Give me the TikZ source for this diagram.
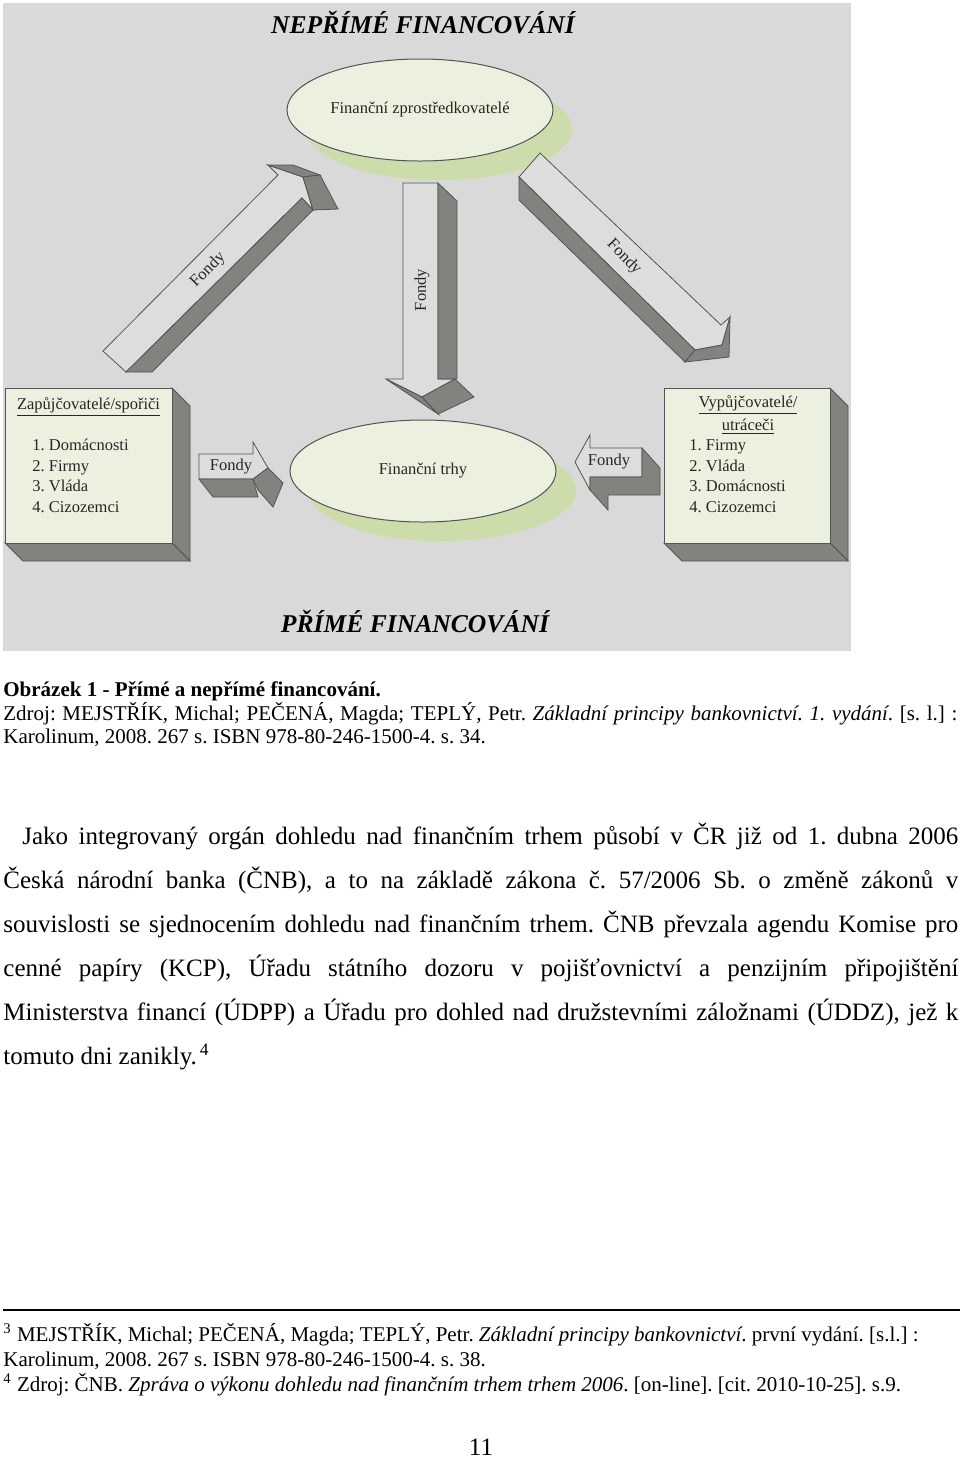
\documentclass[tikz,border=0pt]{standalone}
\usepackage{fontspec}
\setmainfont{Liberation Serif}
\usetikzlibrary{shapes.geometric}
\frenchspacing

\definecolor{panel}{RGB}{217,217,217}
\definecolor{paleface}{RGB}{235,241,222}
\definecolor{shadowgreen}{RGB}{204,220,170}
\definecolor{sidegray}{RGB}{130,131,126}
\definecolor{edgegray}{RGB}{80,86,80}
\definecolor{arrowface}{RGB}{221,221,221}

\tikzstyle{face} = [fill=paleface, draw=edgegray, line width=0.5pt]
\tikzstyle{side} = [fill=sidegray, draw=edgegray, line width=0.4pt]
\tikzstyle{arrowfront} = [fill=arrowface, draw=edgegray, line width=0.4pt]
\tikzstyle{oval} = [ellipse, face, minimum width=133pt, minimum height=51pt, inner sep=0pt]
\tikzstyle{small} = [font=\fontsize{8.25}{10}\selectfont, text=black!85, inner sep=0pt]
\tikzstyle{headline} = [font=\fontsize{12.8}{15}\selectfont\bfseries\itshape, anchor=base, inner sep=0pt]
\tikzstyle{body} = [font=\fontsize{12.5}{15}\selectfont, anchor=base west, inner sep=0pt]
\tikzstyle{note} = [font=\fontsize{10.5}{12}\selectfont, anchor=base west, inner sep=0pt]

\begin{document}
\begin{tikzpicture}[x=0.5pt,y=-0.5pt]
      \useasboundingbox (0,0) rectangle (960,1458);
      \fill [white] (0,0) rectangle (960,1458);
      \fill [panel] (3,3) rectangle (851,651);

      % titles
      \node [headline] (indirect) at (423,33) {NEPŘÍMÉ FINANCOVÁNÍ};
      \node [headline] (direct) at (415,632) {PŘÍMÉ FINANCOVÁNÍ};

      % ovals with shadows
      \fill [shadowgreen] (439,129) ellipse [x radius=133, y radius=51];
      \node [oval] (broker) at (420,110) {};
      \node [small] at (broker) {Finanční zprostředkovatelé};
      \fill [shadowgreen] (442,490) ellipse [x radius=134, y radius=51];
      \node [oval] (markets) at (423,471) {};
      \node [small] at (markets) {Finanční trhy};

      % left box
      \draw [side] (172,388) -- (190,406) -- (190,561) -- (172,543) -- cycle;
      \draw [side] (5,543) -- (172,543) -- (190,561) -- (23,561) -- cycle;
      \draw [face] (5,388) rectangle (172,543);
      \node [small] (lenders) at (88.5,407) {\underline{Zapůjčovatelé/spořiči}};
      \node [small, anchor=base west] (l1) at (32,450) {1. Domácnosti};
      \node [small, anchor=base west] (l2) at (32,471) {2. Firmy};
      \node [small, anchor=base west] (l3) at (32,491) {3. Vláda};
      \node [small, anchor=base west] (l4) at (32,512) {4. Cizozemci};

      % right box
      \draw [side] (830,388) -- (848,406) -- (848,561) -- (830,543) -- cycle;
      \draw [side] (664,543) -- (830,543) -- (848,561) -- (682,561) -- cycle;
      \draw [face] (664,388) rectangle (830,543);
      \node [small] (borrowers) at (748,405) {\underline{Vypůjčovatelé/}};
      \node [small] (spenders) at (748,427) {\underline{utráceči}};
      \node [small, anchor=base west] (b1) at (689,450) {1. Firmy};
      \node [small, anchor=base west] (b2) at (689,471) {2. Vláda};
      \node [small, anchor=base west] (b3) at (689,491) {3. Domácnosti};
      \node [small, anchor=base west] (b4) at (689,512) {4. Cizozemci};

      % arrow up to the intermediaries
      \draw [arrowfront] (103,351) -- (278,175) -- (268,165) -- (303,177) -- (313,210) -- (302,198) -- (126,372) -- cycle;
      \draw [side] (126,372) -- (302,198) -- (313,210) -- (152,372) -- cycle;
      \draw [side] (268,165) -- (293,165) -- (320,175) -- (303,177) -- cycle;
      \draw [side] (303,177) -- (320,175) -- (338,209) -- (313,210) -- cycle;
      \node [small, rotate=45] (upfunds) at (208,270) {Fondy};

      % arrow down to the markets
      \draw [arrowfront] (403,183) -- (438,183) -- (438,379) -- (455,379) -- (422,397) -- (386,379) -- (403,379) -- cycle;
      \draw [side] (438,183) -- (457,201) -- (457,379) -- (438,379) -- cycle;
      \draw [side] (386,379) -- (422,397) -- (438,414) -- cycle;
      \draw [side] (422,397) -- (455,379) -- (474,397) -- (438,414) -- cycle;
      \node [small, rotate=90] (downfunds) at (422,290) {Fondy};

      % arrow from the intermediaries to the borrowers
      \draw [arrowfront] (540,153) -- (721,325) -- (730,317) -- (722,345) -- (695,350) -- (519,177) -- cycle;
      \draw [side] (519,177) -- (695,350) -- (685,362) -- (519,200) -- cycle;
      \draw [side] (695,350) -- (722,345) -- (730,317) -- (729,357) -- (685,362) -- cycle;
      \node [small, rotate=-46] (outfunds) at (624,257) {Fondy};

      % direct arrows
      \draw [arrowfront] (199,454) -- (253,454) -- (253,442) -- (268,468) -- (253,479) -- (199,479) -- cycle;
      \draw [side] (199,479) -- (253,479) -- (258,497) -- (213,497) -- cycle;
      \draw [side] (253,479) -- (268,468) -- (283,483) -- (273,507) -- (258,490) -- cycle;
      \node [small] (leftfunds) at (231,467) {Fondy};
      \draw [arrowfront] (575,462) -- (590,435) -- (590,448) -- (642,448) -- (642,477) -- (590,477) -- (590,490) -- cycle;
      \draw [side] (590,477) -- (642,477) -- (642,448) -- (660,468) -- (660,495) -- (608,495) -- (608,510) -- (590,490) -- cycle;
      \node [small] (rightfunds) at (609,462) {Fondy};

      % caption
      \node [note, font=\fontsize{10.5}{12}\selectfont\bfseries] (cap) at (3,696) {Obrázek 1 - Přímé a nepřímé financování.};
      \node [note] (src1) at (3,720) {\makebox[477pt][s]{Zdroj: MEJSTŘÍK, Michal; PEČENÁ, Magda; TEPLÝ, Petr. \textit{Základní principy bankovnictví. 1. vydání}. [s. l.] :}};
      \node [note] (src2) at (3,743) {Karolinum, 2008. 267 s. ISBN 978-80-246-1500-4. s. 34.};

      % text
      \node [body] (t1) at (22,844) {\makebox[468pt][s]{Jako integrovaný orgán dohledu nad finančním trhem působí v ČR již od 1. dubna 2006}};
      \node [body] (t2) at (3,888) {\makebox[477.5pt][s]{Česká národní banka (ČNB), a to na základě zákona č. 57/2006 Sb. o změně zákonů v}};
      \node [body] (t3) at (3,932) {\makebox[477.5pt][s]{souvislosti se sjednocením dohledu nad finančním trhem. ČNB převzala agendu Komise pro}};
      \node [body] (t4) at (3,976) {\makebox[477.5pt][s]{cenné papíry (KCP), Úřadu státního dozoru v pojišťovnictví a penzijním připojištění}};
      \node [body] (t5) at (3,1020) {\makebox[477.5pt][s]{Ministerstva financí (ÚDPP) a Úřadu pro dohled nad družstevními záložnami (ÚDDZ), jež k}};
      \node [body] (t6) at (3,1064) {tomuto dni zanikly.\textsuperscript{\,4}};

      % footnotes
      \draw [line width=0.6pt] (3,1310) -- (960,1310);
      \node [note] (fn1) at (3,1341) {\textsuperscript{3} MEJSTŘÍK, Michal; PEČENÁ, Magda; TEPLÝ, Petr. \textit{Základní principy bankovnictví}. první vydání. [s.l.] :};
      \node [note] (fn2) at (3,1366) {Karolinum, 2008. 267 s. ISBN 978-80-246-1500-4. s. 38.};
      \node [note] (fn3) at (3,1391) {\textsuperscript{4} Zdroj: ČNB. \textit{Zpráva o výkonu dohledu nad finančním trhem trhem 2006}. [on-line]. [cit. 2010-10-25]. s.9.};
      \node [body, anchor=base] (page) at (481,1455) {11};
    \end{tikzpicture}
\end{document}
